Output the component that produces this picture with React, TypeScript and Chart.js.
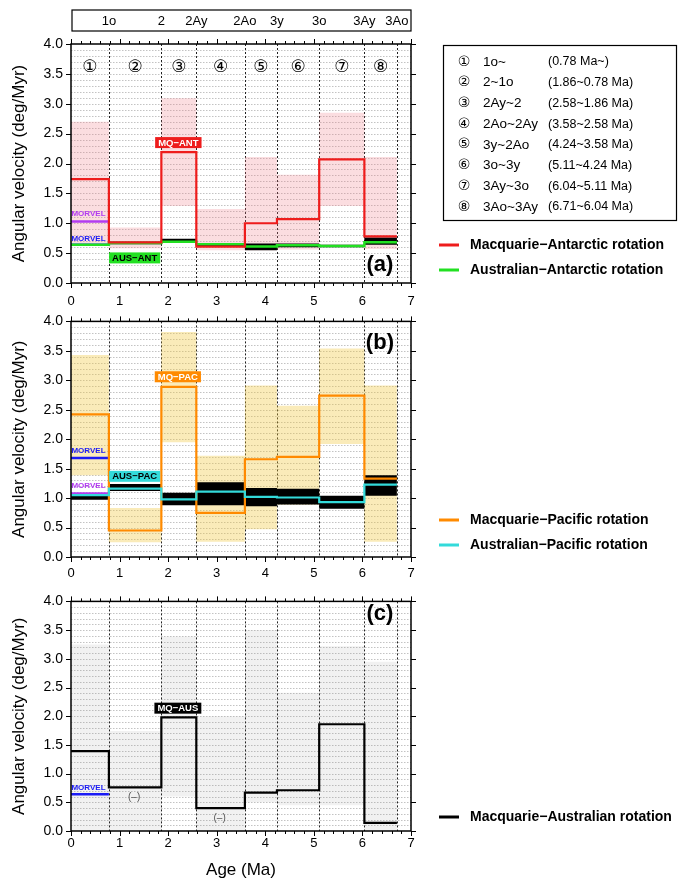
import React, { useEffect, useRef } from 'react';
import { Chart, registerables } from 'chart.js';

Chart.register(...registerables);

const FONT = "'Liberation Sans', Arial, Helvetica, sans-serif";
const SYM_FONT = "'DejaVu Sans', 'Noto Sans CJK JP', sans-serif";
Chart.defaults.font.family = FONT;

// ---------------- data ----------------
const chronAges = [0, 0.78, 1.86, 2.58, 3.58, 4.24, 5.11, 6.04, 6.71];
const chronLabels = ['1o', '2', '2Ay', '2Ao', '3y', '3o', '3Ay', '3Ao'];
const intervalMarks = ['①', '②', '③', '④', '⑤', '⑥', '⑦', '⑧'];
const intervalNames = ['1o~', '2~1o', '2Ay~2', '2Ao~2Ay', '3y~2Ao', '3o~3y', '3Ay~3o', '3Ao~3Ay'];
const intervalAges = ['(0.78 Ma~)', '(1.86~0.78 Ma)', '(2.58~1.86 Ma)', '(3.58~2.58 Ma)', '(4.24~3.58 Ma)', '(5.11~4.24 Ma)', '(6.04~5.11 Ma)', '(6.71~6.04 Ma)'];
const xTickStep = 1;
const yTickStep = 0.5;

// (a) Macquarie-Antarctic / Australian-Antarctic
const mqAnt = [1.74, 0.68, 2.19, 0.61, 1.0, 1.07, 2.07, 0.78];
const mqAntLow = [0.66, 0.58, 1.29, 0.55, 0.55, 0.56, 1.29, 0.57];
const mqAntHigh = [2.7, 0.93, 3.09, 1.24, 2.11, 1.81, 2.85, 2.11];
const ausAnt = [0.64, 0.67, 0.69, 0.65, 0.61, 0.63, 0.62, 0.68];
const ausAntLow = [0.62, 0.65, 0.68, 0.62, 0.55, 0.6, 0.6, 0.64];
const ausAntHigh = [0.65, 0.69, 0.74, 0.67, 0.66, 0.66, 0.64, 0.76];
const morvelMqAnt = 1.03;
const morvelAusAnt = 0.64;

// (b) Macquarie-Pacific / Australian-Pacific
const mqPac = [2.42, 0.45, 2.89, 0.75, 1.66, 1.7, 2.74, 1.33];
const mqPacLow = [1.39, 0.25, 1.95, 0.26, 0.47, 0.89, 1.92, 0.26];
const mqPacHigh = [3.43, 0.83, 3.82, 1.72, 2.91, 2.57, 3.54, 2.91];
const ausPac = [1.05, 1.16, 0.98, 1.11, 1.02, 1.01, 0.93, 1.23];
const ausPacLow = [0.97, 1.12, 0.88, 0.88, 0.86, 0.89, 0.82, 1.04];
const ausPacHigh = [1.05, 1.24, 1.09, 1.27, 1.17, 1.16, 1.04, 1.39];
const morvelMqPac = 1.68;
const morvelAusPac = 1.08;

// (c) Macquarie-Australian
const mqAus = [1.39, 0.76, 1.98, 0.4, 0.67, 0.71, 1.86, 0.14];
const mqAusLow = [0, 0, 0.6, 0, 0.5, 0.45, 0.45, 0];
const mqAusHigh = [3.25, 1.74, 3.39, 2.0, 3.5, 2.41, 3.22, 2.95];
const morvelMqAus = 0.64;

// ---------------- helpers ----------------
const RED = '#ee1c1c';
const GREEN = '#22e022';
const ORANGE = '#ff8a00';
const CYAN = '#33dada';
const PURPLE = '#b23cf0';
const BLUE = '#1b1bf5';
const PINK = 'rgba(239,119,131,0.25)';
const YELLOW = 'rgba(241,198,55,0.35)';
const GRAY = 'rgba(100,100,100,0.09)';

function stepPoints(vals: number[]) {
  const pts = vals.map((v, i) => ({ x: chronAges[i], y: v }));
  pts.push({ x: chronAges[vals.length], y: vals[vals.length - 1] });
  return pts;
}
function morvelPoints(v: number) {
  return [{ x: chronAges[0], y: v }, { x: chronAges[1], y: v }];
}
const hidden = { borderColor: 'rgba(0,0,0,0)', borderWidth: 0, pointRadius: 0, stepped: 'before' };
function bandSets(low: number[], high: number[], color: string, order: number) {
  return [
    { ...hidden, data: stepPoints(low), fill: false, order },
    { ...hidden, data: stepPoints(high), fill: '-1', backgroundColor: color, order: order - 0.5 },
  ];
}
function lineSet(vals: number[], color: string, width: number, order: number) {
  return {
    data: stepPoints(vals), borderColor: color, borderWidth: width, pointRadius: 0,
    stepped: 'before', fill: false, order, borderJoinStyle: 'miter', borderCapStyle: 'butt',
  };
}
function morvelSet(v: number, color: string, order: number) {
  return { data: morvelPoints(v), borderColor: color, borderWidth: 2.5, pointRadius: 0, fill: false, order, borderCapStyle: 'butt' };
}

interface TextAnn { x: number; y: number; text: string; color: string; font: string }
interface BoxAnn { x: number; y: number; text: string; bg: string; fg: string }
interface LegendItem { y: number; color: string; text: string }
interface PanelSpec {
  canvasTop: number; canvasHeight: number; padTop: number; xAxisHeight: number; xTickPad: number;
  xTitle: boolean; datasets: any[]; letter: string; letterPos: [number, number];
  texts: TextAnn[]; boxes: BoxAnn[]; legend: LegendItem[]; circled: boolean; chronBox: boolean; infoBox: boolean;
}

function drawGrid(chart: any) {
  const { ctx, chartArea: a, scales } = chart;
  const x = scales.x, y = scales.y;
  ctx.save();
  ctx.strokeStyle = '#b4b4b4';
  ctx.lineWidth = 0.8;
  ctx.setLineDash([1.5, 1.5]);
  for (let k = 1; k < 40; k++) {
    const py = Math.round(y.getPixelForValue(k / 10)) + 0.5;
    ctx.beginPath(); ctx.moveTo(a.left, py); ctx.lineTo(a.right, py); ctx.stroke();
  }
  ctx.strokeStyle = '#222';
  ctx.lineWidth = 1;
  ctx.setLineDash([2, 2]);
  for (const t of chronAges.slice(1)) {
    const px = Math.round(x.getPixelForValue(t)) + 0.5;
    ctx.beginPath(); ctx.moveTo(px, a.top); ctx.lineTo(px, a.bottom); ctx.stroke();
  }
  ctx.restore();
}

function drawFrame(chart: any) {
  const { ctx, chartArea: a, scales } = chart;
  const x = scales.x, y = scales.y;
  ctx.save();
  ctx.setLineDash([]);
  ctx.strokeStyle = '#000';
  ctx.lineWidth = 1;
  for (let k = 0; k <= 8; k++) {
    const py = Math.round(y.getPixelForValue(k * 0.5)) + 0.5;
    ctx.beginPath();
    ctx.moveTo(a.left - 5, py); ctx.lineTo(a.left, py);
    ctx.moveTo(a.right, py); ctx.lineTo(a.right + 5, py);
    ctx.stroke();
  }
  for (let k = 0; k <= 35; k++) {
    const px = Math.round(x.getPixelForValue(k * 0.2)) + 0.5;
    const len = k % 5 === 0 ? 5 : 3;
    ctx.beginPath();
    ctx.moveTo(px, a.top - len); ctx.lineTo(px, a.top);
    ctx.moveTo(px, a.bottom); ctx.lineTo(px, a.bottom + len);
    ctx.stroke();
  }
  ctx.lineWidth = 1.5;
  ctx.strokeRect(a.left, a.top, a.right - a.left, a.bottom - a.top);
  ctx.restore();
}

function drawAnnotations(chart: any, spec: PanelSpec) {
  const { ctx, scales } = chart;
  const x = scales.x, y = scales.y;
  ctx.save();
  ctx.textAlign = 'center';
  ctx.textBaseline = 'middle';
  for (const t of spec.texts) {
    ctx.font = t.font;
    ctx.fillStyle = t.color;
    ctx.fillText(t.text, x.getPixelForValue(t.x), y.getPixelForValue(t.y));
  }
  ctx.font = `bold 9.5px ${FONT}`;
  for (const b of spec.boxes) {
    const px = x.getPixelForValue(b.x), py = y.getPixelForValue(b.y);
    const w = ctx.measureText(b.text).width + 6, h = 11;
    ctx.fillStyle = b.bg;
    ctx.fillRect(px - w / 2, py - h / 2, w, h);
    ctx.fillStyle = b.fg;
    ctx.fillText(b.text, px, py + 0.5);
  }
  if (spec.circled) {
    ctx.font = `17px ${SYM_FONT}`;
    ctx.fillStyle = '#000';
    for (let i = 0; i < intervalMarks.length; i++) {
      const px = x.getPixelForValue((chronAges[i] + chronAges[i + 1]) / 2);
      ctx.fillText(intervalMarks[i], px, y.getPixelForValue(3.6));
    }
  }
  ctx.font = `bold 22px ${FONT}`;
  ctx.fillStyle = '#000';
  ctx.fillText(spec.letter, x.getPixelForValue(spec.letterPos[0]), y.getPixelForValue(spec.letterPos[1]));
  ctx.restore();
}

function drawExtras(chart: any, spec: PanelSpec) {
  const { ctx, chartArea: a, scales } = chart;
  const x = scales.x;
  ctx.save();
  ctx.setLineDash([]);
  for (const l of spec.legend) {
    ctx.strokeStyle = l.color;
    ctx.lineWidth = 3;
    ctx.beginPath(); ctx.moveTo(439, l.y); ctx.lineTo(459, l.y); ctx.stroke();
    ctx.fillStyle = '#000';
    ctx.font = `bold 14px ${FONT}`;
    ctx.textAlign = 'left';
    ctx.textBaseline = 'middle';
    ctx.fillText(l.text, 470, l.y + 0.5);
  }
  if (spec.chronBox) {
    ctx.strokeStyle = '#000';
    ctx.lineWidth = 1.2;
    ctx.strokeRect(a.left + 1, 10, a.right - a.left - 1, 21);
    ctx.fillStyle = '#000';
    ctx.font = `13px ${FONT}`;
    ctx.textAlign = 'center';
    ctx.textBaseline = 'middle';
    for (let i = 0; i < chronLabels.length; i++) {
      ctx.fillText(chronLabels[i], x.getPixelForValue(chronAges[i + 1]), 21);
    }
  }
  if (spec.infoBox) {
    ctx.strokeStyle = '#000';
    ctx.lineWidth = 1.2;
    ctx.strokeRect(443.5, 45.5, 233, 175);
    ctx.fillStyle = '#000';
    ctx.textBaseline = 'middle';
    for (let i = 0; i < intervalNames.length; i++) {
      const ry = 62 + i * 20.7;
      ctx.textAlign = 'center';
      ctx.font = `14px ${SYM_FONT}`;
      ctx.fillText(intervalMarks[i], 464, ry);
      ctx.textAlign = 'left';
      ctx.font = `13.5px ${FONT}`;
      ctx.fillText(intervalNames[i], 483, ry);
      ctx.font = `12.5px ${FONT}`;
      ctx.fillText(intervalAges[i], 548, ry);
    }
  }
  ctx.restore();
}

function buildConfig(spec: PanelSpec): any {
  const plugin = {
    id: 'panelDeco',
    beforeDatasetsDraw(chart: any) { drawGrid(chart); },
    afterDatasetsDraw(chart: any) { drawFrame(chart); drawAnnotations(chart, spec); },
    afterDraw(chart: any) { drawExtras(chart, spec); },
  };
  return {
    type: 'line',
    data: { datasets: spec.datasets },
    plugins: [plugin],
    options: {
      animation: false,
      responsive: false,
      maintainAspectRatio: false,
      events: [],
      layout: { padding: { top: spec.padTop, left: 0, right: 692 - 411, bottom: 0 } },
      plugins: { legend: { display: false }, tooltip: { enabled: false } },
      scales: {
        x: {
          type: 'linear', min: 0, max: 7,
          afterFit: (s: any) => { s.height = spec.xAxisHeight; },
          grid: { display: false, drawTicks: false },
          border: { display: false },
          ticks: { stepSize: xTickStep, padding: spec.xTickPad, color: '#000', font: { size: 13, family: FONT }, maxRotation: 0, autoSkip: false },
          title: { display: spec.xTitle, text: 'Age (Ma)', color: '#000', font: { size: 17, family: FONT }, padding: { top: 0, bottom: 0 } },
        },
        y: {
          type: 'linear', min: 0, max: 4,
          afterFit: (s: any) => { s.width = 71; },
          grid: { display: false, drawTicks: false },
          border: { display: false },
          ticks: { stepSize: yTickStep, padding: 8, color: '#000', font: { size: 14, family: FONT }, callback: (v: any) => Number(v).toFixed(1) },
          title: { display: true, text: 'Angular velocity (deg/Myr)', color: '#000', font: { size: 17, family: FONT }, padding: { top: 9, bottom: 0 } },
        },
      },
    },
  };
}

const boldSmall = `bold 8px ${FONT}`;

const specs: PanelSpec[] = [
  {
    canvasTop: 0, canvasHeight: 305, padTop: 44, xAxisHeight: 22, xTickPad: 11, xTitle: false,
    datasets: [
      ...bandSets(mqAntLow, mqAntHigh, PINK, 20),
      ...bandSets(ausAntLow, ausAntHigh, '#000', 10),
      morvelSet(morvelMqAnt, PURPLE, 6),
      morvelSet(morvelAusAnt, BLUE, 5),
      lineSet(ausAnt, GREEN, 2.5, 2),
      lineSet(mqAnt, RED, 2.2, 1),
    ],
    letter: '(a)', letterPos: [6.36, 0.3],
    texts: [
      { x: 0.36, y: 1.15, text: 'MORVEL', color: PURPLE, font: boldSmall },
      { x: 0.36, y: 0.74, text: 'MORVEL', color: BLUE, font: boldSmall },
    ],
    boxes: [
      { x: 2.21, y: 2.35, text: 'MQ−ANT', bg: RED, fg: '#fff' },
      { x: 1.31, y: 0.42, text: 'AUS−ANT', bg: GREEN, fg: '#000' },
    ],
    legend: [
      { y: 245, color: RED, text: 'Macquarie−Antarctic rotation' },
      { y: 270, color: GREEN, text: 'Australian−Antarctic rotation' },
    ],
    circled: true, chronBox: true, infoBox: true,
  },
  {
    canvasTop: 305, canvasHeight: 280, padTop: 12, xAxisHeight: 28, xTickPad: 9, xTitle: false,
    datasets: [
      ...bandSets(mqPacLow, mqPacHigh, YELLOW, 20),
      ...bandSets(ausPacLow, ausPacHigh, '#000', 10),
      morvelSet(morvelMqPac, BLUE, 6),
      morvelSet(morvelAusPac, PURPLE, 5),
      lineSet(mqPac, ORANGE, 2.2, 2),
      lineSet(ausPac, CYAN, 2.2, 1),
    ],
    letter: '(b)', letterPos: [6.36, 3.63],
    texts: [
      { x: 0.36, y: 1.8, text: 'MORVEL', color: BLUE, font: boldSmall },
      { x: 0.36, y: 1.21, text: 'MORVEL', color: PURPLE, font: boldSmall },
    ],
    boxes: [
      { x: 2.2, y: 3.06, text: 'MQ−PAC', bg: ORANGE, fg: '#fff' },
      { x: 1.31, y: 1.37, text: 'AUS−PAC', bg: CYAN, fg: '#000' },
    ],
    legend: [
      { y: 215, color: ORANGE, text: 'Macquarie−Pacific rotation' },
      { y: 240, color: CYAN, text: 'Australian−Pacific rotation' },
    ],
    circled: false, chronBox: false, infoBox: false,
  },
  {
    canvasTop: 585, canvasHeight: 296, padTop: 6, xAxisHeight: 50, xTickPad: 5, xTitle: true,
    datasets: [
      ...bandSets(mqAusLow, mqAusHigh, GRAY, 20),
      morvelSet(morvelMqAus, BLUE, 5),
      lineSet(mqAus, '#000', 2.2, 1),
    ],
    letter: '(c)', letterPos: [6.36, 3.78],
    texts: [
      { x: 0.36, y: 0.75, text: 'MORVEL', color: BLUE, font: boldSmall },
      { x: 1.3, y: 0.58, text: '(–)', color: '#555', font: `10px ${FONT}` },
      { x: 3.06, y: 0.23, text: '(–)', color: '#555', font: `10px ${FONT}` },
    ],
    boxes: [
      { x: 2.2, y: 2.14, text: 'MQ−AUS', bg: '#000', fg: '#fff' },
    ],
    legend: [
      { y: 232, color: '#000', text: 'Macquarie−Australian rotation' },
    ],
    circled: false, chronBox: false, infoBox: false,
  },
];

export default function App() {
  const refs = useRef<(HTMLCanvasElement | null)[]>([]);
  useEffect(() => {
    const charts = specs.map((spec, i) => new Chart(refs.current[i] as HTMLCanvasElement, buildConfig(spec)));
    return () => charts.forEach((c) => c.destroy());
  }, []);
  return (
    <div style={{ position: 'absolute', left: 0, top: 0, width: 692, height: 881, background: '#fff' }}>
      {specs.map((s, i) => (
        <canvas
          key={i}
          ref={(el) => { refs.current[i] = el; }}
          width={692}
          height={s.canvasHeight}
          style={{ position: 'absolute', left: 0, top: s.canvasTop, width: 692, height: s.canvasHeight }}
        />
      ))}
    </div>
  );
}
